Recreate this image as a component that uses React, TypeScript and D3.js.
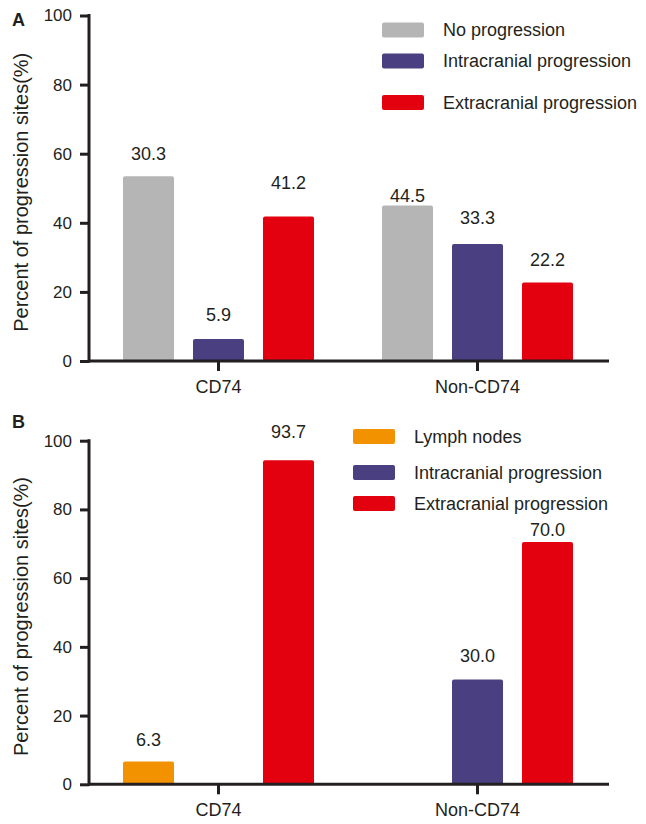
import * as d3 from "d3";
import { useEffect, useRef } from "react";

const groups = ["CD74", "Non-CD74"];
const yTicks = [0, 20, 40, 60, 80, 100];

// panel A
const seriesA = ["No progression", "Intracranial progression", "Extracranial progression"];
const colorsA = ["#b5b5b6", "#4a3f81", "#e3000f"];
const barsA = [
  [53.5, 6.4, 41.8],
  [45.0, 33.9, 22.7],
];
const labelsA = [
  ["30.3", "5.9", "41.2"],
  ["44.5", "33.3", "22.2"],
];

// panel B
const seriesB = ["Lymph nodes", "Intracranial progression", "Extracranial progression"];
const colorsB = ["#f39200", "#4a3f81", "#e3000f"];
const barsB = [
  [6.6, 0, 94.3],
  [0, 30.5, 70.5],
];
const labelsB = [
  ["6.3", "", "93.7"],
  ["", "30.0", "70.0"],
];

const FONT = "'Liberation Sans', Arial, Helvetica, sans-serif";
const INK = "#231f20";

type PanelProps = {
  letter: string;
  letterY: number;
  top: number;
  bottom: number;
  series: string[];
  colors: string[];
  bars: number[][];
  labels: string[][];
  gaps: number[][];
  legendX: number;
  legendY: number[];
};

function Panel(p: PanelProps) {
  const yRef = useRef<SVGGElement>(null);
  const xRef = useRef<SVGGElement>(null);

  const x = d3.scaleBand().domain(groups).range([89, 607]).padding(0);
  const inner = d3
    .scaleBand()
    .domain(p.series)
    .range([-95.5, 95.5])
    .paddingInner(0.2714)
    .paddingOuter(0);
  const y = d3.scaleLinear().domain([0, 100]).range([p.bottom, p.top]);

  useEffect(() => {
    const ya = d3.select(yRef.current!);
    ya.call(d3.axisLeft(y).tickValues(yTicks).tickSize(9).tickSizeOuter(0).tickPadding(8) as any);
    ya.select(".domain").remove();
    ya.selectAll("line").attr("stroke", INK).attr("stroke-width", 3);
    ya.selectAll("text").attr("fill", INK).style("font-size", "17px").style("font-family", FONT);

    const xa = d3.select(xRef.current!);
    xa.call(d3.axisBottom(x).tickSize(10).tickSizeOuter(0).tickPadding(9) as any);
    xa.select(".domain").remove();
    xa.selectAll("line").attr("stroke", INK).attr("stroke-width", 3);
    xa.selectAll("text").attr("fill", INK).style("font-size", "18px").style("font-family", FONT);
  }, []);

  return (
    <g>
      <text x={12} y={p.letterY} fontFamily={FONT} fontWeight="bold" fontSize={18} fill={INK}>
        {p.letter}
      </text>
      <text
        transform={`translate(28,${(p.top + p.bottom) / 2 + 4}) rotate(-90)`}
        textAnchor="middle"
        fontFamily={FONT}
        fontSize={20}
        fill={INK}
      >
        Percent of progression sites(%)
      </text>

      {groups.map((g, gi) => (
        <g key={g} transform={`translate(${x(g)! + x.bandwidth() / 2},0)`}>
          {p.series.map((s, si) => {
            const v = p.bars[gi][si];
            const bx = inner(s)!;
            return (
              <g key={s}>
                {v > 0 && (
                  <rect
                    x={bx}
                    y={y(v)}
                    width={inner.bandwidth()}
                    height={y(0) - y(v)}
                    rx={2}
                    fill={p.colors[si]}
                  />
                )}
                {p.labels[gi][si] && (
                  <text
                    x={bx + inner.bandwidth() / 2}
                    y={y(v) - p.gaps[gi][si]}
                    textAnchor="middle"
                    fontFamily={FONT}
                    fontSize={18}
                    fill={INK}
                  >
                    {p.labels[gi][si]}
                  </text>
                )}
              </g>
            );
          })}
        </g>
      ))}

      <g ref={yRef} transform="translate(89,0)" />
      <g ref={xRef} transform={`translate(0,${p.bottom})`} />
      <line x1={89} x2={89} y1={p.top - 1.5} y2={p.bottom + 1.5} stroke={INK} strokeWidth={3} />
      <line x1={89} x2={609} y1={p.bottom} y2={p.bottom} stroke={INK} strokeWidth={3} />

      {p.series.map((s, si) => (
        <g key={s}>
          <rect x={p.legendX} y={p.legendY[si] - 7.5} width={42} height={15} rx={2} fill={p.colors[si]} />
          <text
            x={p.legendX + 61}
            y={p.legendY[si]}
            dy="0.35em"
            fontFamily={FONT}
            fontSize={18}
            fill={INK}
          >
            {s}
          </text>
        </g>
      ))}
    </g>
  );
}

export default function App() {
  return (
    <svg width={646} height={824} style={{ position: "absolute", left: 0, top: 0, background: "#fff" }}>
      <Panel
        letter="A"
        letterY={26}
        top={15.5}
        bottom={361}
        series={seriesA}
        colors={colorsA}
        bars={barsA}
        labels={labelsA}
        gaps={[
          [16, 18, 28],
          [4, 20, 17],
        ]}
        legendX={382}
        legendY={[30, 61, 102.5]}
      />
      <Panel
        letter="B"
        letterY={428}
        top={440.7}
        bottom={784.3}
        series={seriesB}
        colors={colorsB}
        bars={barsB}
        labels={labelsB}
        gaps={[
          [16, 0, 22],
          [0, 18, 6],
        ]}
        legendX={353}
        legendY={[436.5, 472.5, 503.5]}
      />
    </svg>
  );
}
